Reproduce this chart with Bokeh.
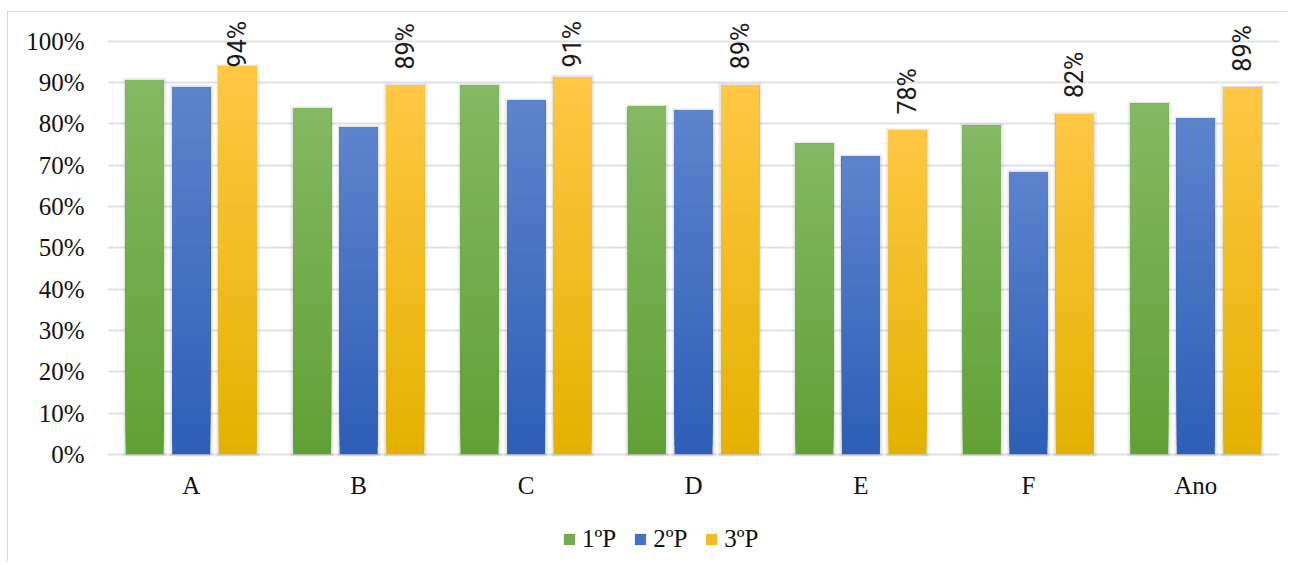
import numpy as np
from bokeh.plotting import figure
from bokeh.models import (FactorRange, Range1d, ColumnDataSource, FixedTicker,
                          NumeralTickFormatter, Legend, LegendItem)
from bokeh.transform import dodge
from bokeh.core.properties import value
from bokeh.embed import file_html
from bokeh.resources import INLINE

# ---- data ----
categories = ["A", "B", "C", "D", "E", "F", "Ano"]
series_names = ["1ºP", "2ºP", "3ºP"]
p1 = [0.906, 0.838, 0.893, 0.842, 0.752, 0.796, 0.849]
p2 = [0.889, 0.792, 0.857, 0.833, 0.721, 0.684, 0.813]
p3 = [0.939, 0.893, 0.914, 0.894, 0.784, 0.824, 0.888]
y_ticks = [0.0, 0.1, 0.2, 0.3, 0.4, 0.5, 0.6, 0.7, 0.8, 0.9, 1.0]

# ---- style ----
grad_top = ["#84B863", "#5D84CD", "#FFC745"]
grad_bot = ["#61A034", "#2E5EB7", "#E3B200"]
offsets = [-0.278, 0.0, 0.278]
bar_w = 0.227
N = 40
SERIF = "Liberation Serif"
SANS = "Roboto"
y_lo, y_hi = -0.262, 1.070      # room below the bars for category labels + legend
cat_label_y = -0.075
shadow_layers = [(0.036, 0.006, 0.045), (0.020, 0.004, 0.06)]  # (extra width, extra height, alpha)


def hex2rgb(h):
    h = h.lstrip("#")
    return np.array([int(h[i:i + 2], 16) for i in (0, 2, 4)], dtype=float)


def rgb2hex(c):
    return "#%02x%02x%02x" % tuple(int(round(v)) for v in c)


p = figure(x_range=FactorRange(*categories), y_range=Range1d(y_lo, y_hi),
           width=1280, height=550, output_backend="svg", toolbar_location=None,
           title=None, x_axis_location=None,
           min_border_left=99, min_border_right=9,
           min_border_top=0, min_border_bottom=0)
p.margin = (11, 0, 0, 7)
p.styles = {"border-top": "1px solid #d9d9d9", "border-left": "1px solid #d9d9d9"}
p.outline_line_color = None
p.background_fill_color = "white"
p.border_fill_color = "white"

for g in p.grid:
    if g.dimension == 0:
        g.grid_line_color = None
        g.visible = False

# soft shadows behind the bars
for s, vals in enumerate([p1, p2, p3]):
    for extra_w, extra_h, alpha in shadow_layers:
        sh = ColumnDataSource(dict(cat=categories,
                                   top=[v + extra_h for v in vals],
                                   bottom=[-extra_h] * len(vals)))
        p.vbar(x=dodge("cat", offsets[s], range=p.x_range), top="top", bottom="bottom",
               width=bar_w + extra_w, fill_color="#000000", fill_alpha=alpha,
               line_color=None, source=sh)

legend_items = []
for s, vals in enumerate([p1, p2, p3]):
    top_c, bot_c = hex2rgb(grad_top[s]), hex2rgb(grad_bot[s])
    xs, bots, tops, cols = [], [], [], []
    for i in range(N):
        f = (i + 0.5) / N
        col = rgb2hex(bot_c + f * (top_c - bot_c))
        for c, v in zip(categories, vals):
            xs.append(c)
            bots.append(v * i / N)
            tops.append(v)
            cols.append(col)
    src = ColumnDataSource(dict(cat=xs, bottom=bots, top=tops, color=cols))
    r = p.vbar(x=dodge("cat", offsets[s], range=p.x_range), top="top", bottom="bottom",
               width=bar_w, fill_color="color", line_color=None, source=src)
    legend_items.append(LegendItem(label=series_names[s], renderers=[r],
                                   index=(N // 2) * len(categories)))

# data labels on the 3rd series
label_gap = 0.0388
label_max = 0.937
lab_src = ColumnDataSource(dict(
    cat=categories,
    y=[min(v + label_gap, label_max) for v in p3],
    text=["%d%%" % round(v * 100) for v in p3]))
p.text(x=dodge("cat", offsets[2], range=p.x_range), y="y", text="text", source=lab_src,
       angle=np.pi / 2, text_align="left", text_baseline="middle",
       text_font=value(SANS), text_font_size="25px", text_color="#1a1a1a")

# category labels (x axis)
cat_src = ColumnDataSource(dict(cat=categories, y=[cat_label_y] * len(categories)))
p.text(x="cat", y="y", text="cat", source=cat_src, text_align="center",
       text_baseline="middle", text_font=value(SERIF), text_font_size="25px",
       text_color="#111111")

# y axis
p.yaxis.ticker = FixedTicker(ticks=y_ticks)
p.yaxis.formatter = NumeralTickFormatter(format="0%")
p.yaxis.axis_line_color = None
p.yaxis.major_tick_line_color = None
p.yaxis.minor_tick_line_color = None
p.yaxis.major_tick_out = 0
p.yaxis.major_label_standoff = 23
p.yaxis.major_label_text_font = SERIF
p.yaxis.major_label_text_font_size = "25px"
p.yaxis.major_label_text_color = "#111111"

p.ygrid.grid_line_color = "#dfe2e7"
p.ygrid.grid_line_width = 2

legend = Legend(items=legend_items, orientation="horizontal", location=(455, 9),
                glyph_width=14, glyph_height=14, label_standoff=6, spacing=17,
                padding=0, margin=0, border_line_color=None,
                background_fill_alpha=0,
                label_text_font=SERIF, label_text_font_size="25px",
                label_text_color="#111111")
p.add_layout(legend)

open("out.html", "w").write(file_html(p, INLINE))
